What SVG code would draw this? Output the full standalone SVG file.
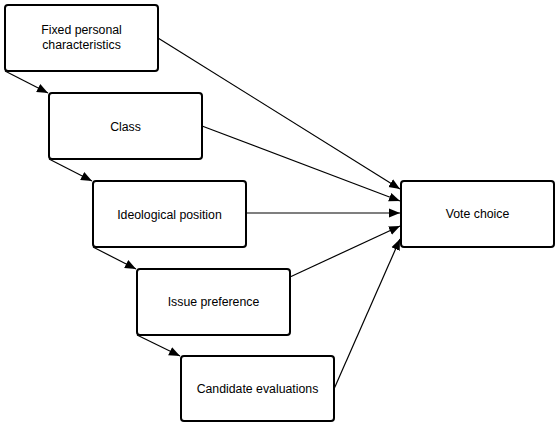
<svg xmlns="http://www.w3.org/2000/svg" width="556" height="422" viewBox="0 0 556 422">
<style>
.box{fill:#fff;stroke:#000;stroke-width:2}
.lbl{font-family:"Liberation Sans",Arial,sans-serif;font-size:12.3px;fill:#000;text-anchor:middle}
.edge{stroke:#000;stroke-width:1.2;fill:none;marker-end:url(#ah)}
</style>
<defs>
<marker id="ah" markerWidth="12" markerHeight="10" refX="11" refY="5" orient="auto" markerUnits="userSpaceOnUse">
<path d="M0,0.5 L11,5 L0,9.5 Z" fill="#000"/>
</marker>
</defs>
<rect width="556" height="422" fill="#fff"/>
<g id="connectors">
<line class="edge" x1="5" y1="71" x2="48" y2="93"/>
<line class="edge" x1="49" y1="159" x2="92" y2="181"/>
<line class="edge" x1="93" y1="247" x2="136" y2="269"/>
<line class="edge" x1="137" y1="335" x2="180" y2="356"/>
<line class="edge" x1="158" y1="38" x2="400" y2="189"/>
<line class="edge" x1="202" y1="126" x2="400" y2="201"/>
<line class="edge" x1="246" y1="213" x2="400" y2="213"/>
<line class="edge" x1="290" y1="277" x2="400" y2="226"/>
<line class="edge" x1="334" y1="389" x2="400" y2="239"/>
</g>
<g id="n1"><rect class="box" x="5" y="5" width="153" height="66" rx="3"/><text class="lbl" x="81.5" y="34">Fixed personal</text><text class="lbl" x="81.5" y="49">characteristics</text></g>
<g id="n2"><rect class="box" x="49" y="93" width="153" height="66" rx="3"/><text class="lbl" x="125.5" y="130.5">Class</text></g>
<g id="n3"><rect class="box" x="93" y="181" width="153" height="66" rx="3"/><text class="lbl" x="169.5" y="218.5">Ideological position</text></g>
<g id="n4"><rect class="box" x="137" y="269" width="153" height="66" rx="3"/><text class="lbl" x="213.5" y="306">Issue preference</text></g>
<g id="n5"><rect class="box" x="181" y="356" width="153" height="65" rx="3"/><text class="lbl" x="257.5" y="393">Candidate evaluations</text></g>
<g id="n6"><rect class="box" x="401" y="181" width="153" height="66" rx="3"/><text class="lbl" x="477.5" y="218">Vote choice</text></g>
</svg>
